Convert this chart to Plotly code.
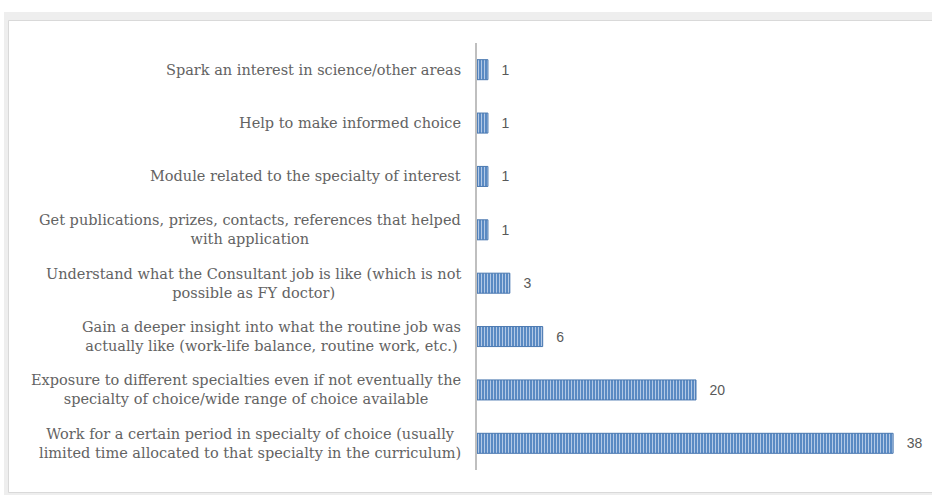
import plotly.graph_objects as go

categories = [
    "Work for a certain period in specialty of choice (usually<br>limited time allocated to that specialty in the curriculum)",
    "Exposure to different specialties even if not eventually the<br>specialty of choice/wide range of choice available",
    "Gain a deeper insight into what the routine job was<br>actually like (work-life balance, routine work, etc.)",
    "Understand what the Consultant job is like (which is not<br>possible as FY doctor)",
    "Get publications, prizes, contacts, references that helped<br>with application",
    "Module related to the specialty of interest",
    "Help to make informed choice",
    "Spark an interest in science/other areas",
]
values = [38, 20, 6, 3, 1, 1, 1, 1]

W, H = 932, 495
L, R, T, B = 477, 17, 43, 25
PW, PH = W - L - R, H - T - B


def px(x):
    return (x - L) / PW


def py(y):
    return (H - B - y) / PH


fig = go.Figure()
fig.add_trace(go.Bar(
    y=categories,
    x=values,
    orientation="h",
    marker=dict(
        color="#4F81BD",
        line=dict(color="#4A78B0", width=1),
        pattern=dict(shape="|", fgcolor="#B3C9E6", bgcolor="#5083BF",
                     size=3, solidity=0.4, fillmode="replace"),
    ),
    text=[f"  \u2009{v}" for v in values],
    textposition="outside",
    textfont=dict(family="Liberation Sans", size=14, color="#595959"),
    cliponaxis=False,
    width=0.375,
    hoverinfo="skip",
))

shapes = [
    dict(type="rect", xref="paper", yref="paper", layer="below",
         x0=px(4), x1=px(940), y0=py(12), y1=py(500),
         fillcolor="#EEEEEE", line=dict(width=0)),
    dict(type="rect", xref="paper", yref="paper", layer="below",
         x0=px(8.5), x1=px(945), y0=py(20.5), y1=py(492.5),
         fillcolor="#FFFFFF", line=dict(color="#D9D9D9", width=1)),
]

annotations = []
for c in categories:
    annotations.append(dict(
        x=0, xref="paper", y=c, yref="y", xanchor="right", yanchor="middle",
        xshift=-14, text=c, showarrow=False, align="center",
        font=dict(family="DejaVu Serif", size=14.5, color="#636363"),
    ))

fig.update_layout(
    width=W, height=H,
    margin=dict(l=L, r=R, t=T, b=B, pad=0),
    paper_bgcolor="#FFFFFF",
    plot_bgcolor="rgba(0,0,0,0)",
    showlegend=False,
    shapes=shapes,
    annotations=annotations,
    xaxis=dict(range=[0, 40], visible=False, fixedrange=True),
    yaxis=dict(showticklabels=False, ticks="", showgrid=False, zeroline=False,
               showline=True, linecolor="#BFBFBF", linewidth=2,
               categoryorder="array", categoryarray=categories,
               fixedrange=True),
)

fig.write_html(
    "out.html",
    config={"displayModeBar": False},
    post_script="document.body.style.margin='0';document.body.style.padding='0';",
)
